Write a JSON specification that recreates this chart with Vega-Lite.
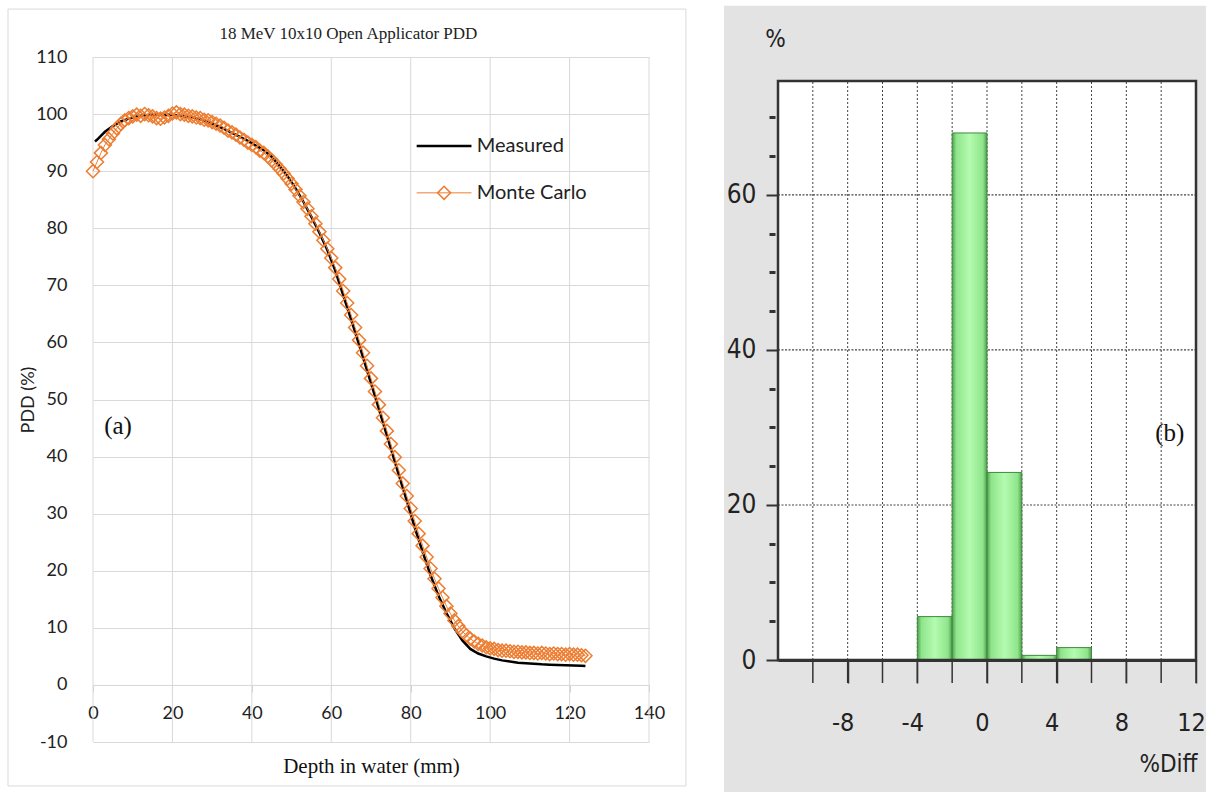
{
"$schema": "https://vega.github.io/schema/vega-lite/v6.json",
"background": "white",
"padding": {"left": 7, "top": 5, "right": 0, "bottom": 0},
"spacing": 37,
"config": {"view": {"stroke": null}},
"datasets": {
"measured": [
{"d":0.5,"v":95.2},{"d":1,"v":95.5},{"d":3,"v":96.9},{"d":5,"v":97.9},{"d":7,"v":98.7},{"d":9,"v":99.2},{"d":11,"v":99.6},{"d":13,"v":99.8},{"d":15,"v":99.9},{"d":17,"v":99.9},{"d":19,"v":99.9},{"d":21,"v":99.8},{"d":23,"v":99.6},{"d":25,"v":99.4},{"d":27,"v":99.1},{"d":29,"v":98.6},{"d":31,"v":98.0},{"d":33,"v":97.4},{"d":35,"v":96.7},{"d":37,"v":96.0},{"d":39,"v":95.3},{"d":41,"v":94.5},{"d":43,"v":93.7},{"d":45,"v":92.5},{"d":47,"v":90.9},{"d":49,"v":89.1},{"d":51,"v":87.0},{"d":53,"v":84.6},{"d":55,"v":82.0},{"d":57,"v":79.2},{"d":59,"v":76.2},{"d":61,"v":72.6},{"d":63,"v":68.3},{"d":65,"v":64.0},{"d":67,"v":59.6},{"d":69,"v":55.1},{"d":71,"v":50.6},{"d":73,"v":46.0},{"d":75,"v":41.4},{"d":77,"v":36.8},{"d":79,"v":32.3},{"d":81,"v":27.6},{"d":83,"v":23.3},{"d":85,"v":19.2},{"d":87,"v":15.6},{"d":89,"v":12.6},{"d":91,"v":9.9},{"d":93,"v":7.8},{"d":95,"v":6.3},{"d":97,"v":5.5},{"d":99,"v":5.0},{"d":101,"v":4.6},{"d":103,"v":4.3},{"d":105,"v":4.1},{"d":107,"v":3.9},{"d":109,"v":3.8},{"d":111,"v":3.7},{"d":113,"v":3.6},{"d":115,"v":3.55},{"d":117,"v":3.5},{"d":119,"v":3.45},{"d":121,"v":3.4},{"d":123,"v":3.35},{"d":124,"v":3.3}
],
"mc": [
{"d":0,"v":90.0},{"d":1,"v":91.6},{"d":2,"v":93.2},{"d":3,"v":94.6},{"d":4,"v":95.6},{"d":5,"v":96.6},{"d":6,"v":97.5},{"d":7,"v":98.3},{"d":8,"v":98.9},{"d":9,"v":99.3},
{"d":10,"v":99.6},{"d":11,"v":99.9},{"d":12,"v":99.7},{"d":13,"v":100.0},{"d":14,"v":99.8},{"d":15,"v":99.6},{"d":16,"v":99.3},{"d":17,"v":99.2},{"d":18,"v":99.4},{"d":19,"v":99.7},
{"d":20,"v":100.1},{"d":21,"v":100.3},{"d":22,"v":100.0},{"d":23,"v":99.9},{"d":24,"v":99.7},{"d":25,"v":99.6},{"d":26,"v":99.4},{"d":27,"v":99.3},{"d":28,"v":99.0},{"d":29,"v":98.9},
{"d":30,"v":98.6},{"d":31,"v":98.3},{"d":32,"v":98.0},{"d":33,"v":97.6},{"d":34,"v":97.1},{"d":35,"v":96.8},{"d":36,"v":96.4},{"d":37,"v":95.9},{"d":38,"v":95.5},{"d":39,"v":95.0},
{"d":40,"v":94.6},{"d":41,"v":94.2},{"d":42,"v":93.6},{"d":43,"v":93.2},{"d":44,"v":92.6},{"d":45,"v":91.9},{"d":46,"v":91.2},{"d":47,"v":90.4},{"d":48,"v":89.6},{"d":49,"v":88.7},
{"d":50,"v":87.8},{"d":51,"v":86.8},{"d":52,"v":85.7},{"d":53,"v":84.6},{"d":54,"v":83.4},{"d":55,"v":82.1},{"d":56,"v":80.8},{"d":57,"v":79.4},{"d":58,"v":77.9},{"d":59,"v":76.4},
{"d":60,"v":74.8},{"d":61,"v":73.1},{"d":62,"v":71.1},{"d":63,"v":69.0},{"d":64,"v":66.9},{"d":65,"v":64.8},{"d":66,"v":62.6},{"d":67,"v":60.4},{"d":68,"v":58.2},{"d":69,"v":55.9},
{"d":70,"v":53.7},{"d":71,"v":51.4},{"d":72,"v":49.1},{"d":73,"v":46.8},{"d":74,"v":44.5},{"d":75,"v":42.2},{"d":76,"v":39.9},{"d":77,"v":37.6},{"d":78,"v":35.3},{"d":79,"v":33.1},
{"d":80,"v":30.9},{"d":81,"v":28.7},{"d":82,"v":26.5},{"d":83,"v":24.4},{"d":84,"v":22.4},{"d":85,"v":20.4},{"d":86,"v":18.6},{"d":87,"v":16.9},{"d":88,"v":15.3},{"d":89,"v":13.8},
{"d":90,"v":12.5},{"d":91,"v":11.3},{"d":92,"v":10.3},{"d":93,"v":9.4},{"d":94,"v":8.7},{"d":95,"v":8.1},{"d":96,"v":7.6},{"d":97,"v":7.2},{"d":98,"v":6.9},{"d":99,"v":6.6},
{"d":100,"v":6.4},{"d":101,"v":6.3},{"d":102,"v":6.1},{"d":103,"v":6.0},{"d":104,"v":6.0},{"d":105,"v":5.9},{"d":106,"v":5.8},{"d":107,"v":5.8},{"d":108,"v":5.7},{"d":109,"v":5.7},
{"d":110,"v":5.6},{"d":111,"v":5.6},{"d":112,"v":5.5},{"d":113,"v":5.6},{"d":114,"v":5.5},{"d":115,"v":5.4},{"d":116,"v":5.5},{"d":117,"v":5.4},{"d":118,"v":5.4},{"d":119,"v":5.3},
{"d":120,"v":5.4},{"d":121,"v":5.3},{"d":122,"v":5.3},{"d":123,"v":5.2},{"d":124,"v":5.1}
],
"grid": [{"d":0},{"d":20},{"d":40},{"d":60},{"d":80},{"d":100},{"d":120},{"d":140}],
"hist": [
{"lo":-4,"hi":-2,"pct":5.6},{"lo":-2,"hi":0,"pct":68.0},{"lo":0,"hi":2,"pct":24.2},{"lo":2,"hi":4,"pct":0.6},{"lo":4,"hi":6,"pct":1.6}
],
"vgrid": [{"g":-10},{"g":-8},{"g":-6},{"g":-4},{"g":-2},{"g":0},{"g":2},{"g":4},{"g":6},{"g":8},{"g":10}],
"xticks": [{"g":-10},{"g":-8},{"g":-6},{"g":-4},{"g":-2},{"g":0},{"g":2},{"g":4},{"g":6},{"g":8},{"g":10},{"g":12}],
"hgrid": [{"g":20},{"g":40},{"g":60}],
"legend": [{"label":"Measured"},{"label":"Monte Carlo"}],
"titles": [{"t":"18 MeV 10x10 Open Applicator PDD"}]
},
"hconcat": [
{
"width": 556,
"height": 685,
"layer": [
{"data": {"values": [{}]},
"mark": {"type": "rect", "filled": false, "stroke": "#d9d9d9", "strokeWidth": 1},
"encoding": {
"x": {"datum": -21.4, "type": "quantitative", "scale": {"domain": [0, 140], "nice": false, "zero": false}},
"x2": {"datum": 149.3},
"y": {"datum": 118.4, "type": "quantitative", "scale": {"domain": [-10, 110], "nice": false, "zero": false}},
"y2": {"datum": -17.7}}},
{"data": {"name": "titles"},
"mark": {"type": "text", "align": "center", "baseline": "middle", "font": "Liberation Serif", "fontSize": 17, "color": "#222222"},
"encoding": {
"text": {"field": "t"},
"x": {"datum": 64.3, "type": "quantitative", "scale": {"domain": [0, 140], "nice": false, "zero": false}},
"y": {"datum": 114.0, "type": "quantitative", "scale": {"domain": [-10, 110], "nice": false, "zero": false}}}},
{"data": {"name": "grid"},
"mark": {"type": "rule", "color": "#d9d9d9", "strokeWidth": 1},
"encoding": {
"x": {"field": "d", "type": "quantitative", "scale": {"domain": [0, 140], "nice": false, "zero": false}},
"y": {"datum": -10, "type": "quantitative", "scale": {"domain": [-10, 110], "nice": false, "zero": false}},
"y2": {"datum": 110}}},
{"data": {"name": "measured"},
"mark": {"type": "line", "color": "#000000", "strokeWidth": 2.5},
"encoding": {
"x": {"field": "d", "type": "quantitative", "title": "Depth in water (mm)",
"scale": {"domain": [0, 140], "nice": false, "zero": false},
"axis": {"values": [0,5,10,15,20,25,30,35,40,45,50,55,60,65,70,75,80,85,90,95,100,105,110,115,120,125,130,135,140],
"labelExpr": "datum.value % 20 === 0 ? '' + datum.value : ''", "offset": -57.08, "grid": false,
"domainColor": "#d9d9d9", "domainWidth": 1, "tickColor": "#d0d0d0", "tickSize": 7, "tickWidth": 1,
"labelFont": "Lato", "labelFontSize": 18, "labelColor": "#222222", "labelPadding": 13, "labelFlush": false, "labelOverlap": false,
"titleFont": "Liberation Serif", "titleFontSize": 21, "titleFontWeight": "normal", "titleColor": "#111111", "titlePadding": 33}},
"y": {"field": "v", "type": "quantitative", "title": "PDD (%)",
"scale": {"domain": [-10, 110], "nice": false, "zero": false},
"axis": {"values": [-10,0,10,20,30,40,50,60,70,80,90,100,110], "labelExpr": "'' + datum.value", "grid": true, "gridColor": "#d9d9d9", "gridWidth": 1,
"domain": false, "ticks": false, "labelPadding": 26, "labelFont": "Lato", "labelFontSize": 18, "labelColor": "#222222",
"titleFont": "Lato", "titleFontSize": 18, "titleFontWeight": "normal", "titleColor": "#222222", "titlePadding": -2}}}},
{"data": {"name": "mc"},
"mark": {"type": "line", "color": "#ED7D31", "strokeWidth": 1,
"point": {"shape": "diamond", "filled": false, "size": 170, "stroke": "#ED7D31", "strokeWidth": 1.5}},
"encoding": {
"x": {"field": "d", "type": "quantitative", "scale": {"domain": [0, 140], "nice": false, "zero": false}},
"y": {"field": "v", "type": "quantitative", "scale": {"domain": [-10, 110], "nice": false, "zero": false}}}},
{"data": {"values": [{}]},
"mark": {"type": "rule", "color": "#000000", "strokeWidth": 2.5},
"encoding": {
"x": {"datum": 81.5, "type": "quantitative", "scale": {"domain": [0, 140], "nice": false, "zero": false}},
"x2": {"datum": 95.3},
"y": {"datum": 94.4, "type": "quantitative", "scale": {"domain": [-10, 110], "nice": false, "zero": false}}}},
{"data": {"values": [{}]},
"mark": {"type": "rule", "color": "#ED7D31", "strokeWidth": 1},
"encoding": {
"x": {"datum": 81.5, "type": "quantitative", "scale": {"domain": [0, 140], "nice": false, "zero": false}},
"x2": {"datum": 95.3},
"y": {"datum": 86.2, "type": "quantitative", "scale": {"domain": [-10, 110], "nice": false, "zero": false}}}},
{"data": {"values": [{}]},
"mark": {"type": "point", "shape": "diamond", "filled": false, "size": 170, "stroke": "#ED7D31", "strokeWidth": 1.5, "opacity": 1},
"encoding": {
"x": {"datum": 88.4, "type": "quantitative", "scale": {"domain": [0, 140], "nice": false, "zero": false}},
"y": {"datum": 86.2, "type": "quantitative", "scale": {"domain": [-10, 110], "nice": false, "zero": false}}}},
{"data": {"name": "legend"},
"transform": [{"filter": "datum.label === 'Measured'"}],
"mark": {"type": "text", "align": "left", "baseline": "middle", "font": "Lato", "fontSize": 20, "color": "#222222"},
"encoding": {
"text": {"field": "label"},
"x": {"datum": 96.6, "type": "quantitative", "scale": {"domain": [0, 140], "nice": false, "zero": false}},
"y": {"datum": 94.4, "type": "quantitative", "scale": {"domain": [-10, 110], "nice": false, "zero": false}}}},
{"data": {"name": "legend"},
"transform": [{"filter": "datum.label === 'Monte Carlo'"}],
"mark": {"type": "text", "align": "left", "baseline": "middle", "font": "Lato", "fontSize": 20, "color": "#222222"},
"encoding": {
"text": {"field": "label"},
"x": {"datum": 96.6, "type": "quantitative", "scale": {"domain": [0, 140], "nice": false, "zero": false}},
"y": {"datum": 86.2, "type": "quantitative", "scale": {"domain": [-10, 110], "nice": false, "zero": false}}}},
{"data": {"values": [{"tag": "(a)"}]},
"mark": {"type": "text", "align": "center", "baseline": "middle", "font": "Liberation Serif", "fontSize": 25, "color": "#111111"},
"encoding": {
"text": {"field": "tag"},
"x": {"datum": 6.3, "type": "quantitative", "scale": {"domain": [0, 140], "nice": false, "zero": false}},
"y": {"datum": 45.4, "type": "quantitative", "scale": {"domain": [-10, 110], "nice": false, "zero": false}}}}
]
},
{
"width": 418,
"height": 603,
"layer": [
{"data": {"values": [{}]},
"mark": {"type": "rect", "fill": "#e3e3e3", "stroke": null},
"encoding": {
"x": {"datum": -15.1, "type": "quantitative", "scale": {"domain": [-12, 12], "nice": false, "zero": false}},
"x2": {"datum": 13},
"y": {"datum": 84.4, "type": "quantitative", "scale": {"domain": [0, 77.8], "nice": false, "zero": false}},
"y2": {"datum": -18}}},
{"data": {"values": [{}]},
"mark": {"type": "rect", "fill": "#ffffff", "stroke": null},
"encoding": {
"x": {"datum": -12, "type": "quantitative", "scale": {"domain": [-12, 12], "nice": false, "zero": false}},
"x2": {"datum": 12},
"y": {"datum": 74.7, "type": "quantitative", "scale": {"domain": [0, 77.8], "nice": false, "zero": false}},
"y2": {"datum": 0}}},
{"data": {"name": "vgrid"},
"mark": {"type": "rule", "color": "#444444", "strokeWidth": 1, "strokeDash": [2, 2]},
"encoding": {
"x": {"field": "g", "type": "quantitative", "scale": {"domain": [-12, 12], "nice": false, "zero": false}},
"y": {"datum": 0, "type": "quantitative", "scale": {"domain": [0, 77.8], "nice": false, "zero": false}},
"y2": {"datum": 74.7}}},
{"data": {"name": "xticks"},
"mark": {"type": "rule", "color": "#333333", "strokeWidth": 1.5},
"encoding": {
"x": {"field": "g", "type": "quantitative", "scale": {"domain": [-12, 12], "nice": false, "zero": false}},
"y": {"datum": 0, "type": "quantitative", "scale": {"domain": [0, 77.8], "nice": false, "zero": false}},
"y2": {"datum": -2.97}}},
{"data": {"name": "hgrid"},
"mark": {"type": "rule", "color": "#444444", "strokeWidth": 1.2, "strokeDash": [2, 1.5]},
"encoding": {
"y": {"field": "g", "type": "quantitative", "scale": {"domain": [0, 77.8], "nice": false, "zero": false}},
"x": {"datum": -12, "type": "quantitative", "scale": {"domain": [-12, 12], "nice": false, "zero": false}},
"x2": {"datum": 12}}},
{"data": {"name": "hist"},
"mark": {"type": "rect", "stroke": "#3f8a3f", "strokeWidth": 1,
"fill": {"gradient": "linear", "x1": 0, "x2": 1, "y1": 0, "y2": 0,
"stops": [{"offset": 0, "color": "#4f9f4f"}, {"offset": 0.12, "color": "#8fe58b"}, {"offset": 0.5, "color": "#b4fbb0"}, {"offset": 0.88, "color": "#8fe58b"}, {"offset": 1, "color": "#4f9f4f"}]}},
"encoding": {
"x": {"field": "lo", "type": "quantitative", "title": "%Diff",
"scale": {"domain": [-12, 12], "nice": false, "zero": false},
"axis": {"values": [-8,-4,0,4,8,12], "labelExpr": "'' + datum.value",
"grid": false, "domain": true, "domainColor": "#333333", "domainWidth": 3,
"ticks": true, "tickColor": "#333333", "tickWidth": 1.5, "tickSize": 23,
"labelFont": "Liberation Sans Narrow, DejaVu Sans Condensed, sans-serif", "labelFontSize": 25, "labelColor": "#222222",
"labelPadding": 27, "labelOffset": -5, "labelFlush": false, "labelOverlap": false,
"titleFont": "Liberation Sans Narrow, DejaVu Sans Condensed, sans-serif", "titleFontSize": 24, "titleFontWeight": "normal", "titleColor": "#222222",
"titleAnchor": "end", "titleAlign": "right", "titleBaseline": "middle", "titleX": 419, "titleY": 104, "zindex": 1}},
"x2": {"field": "hi"},
"y": {"field": "pct", "type": "quantitative", "title": "%",
"scale": {"domain": [0, 77.8], "nice": false, "zero": false},
"axis": {"values": [0,5,10,15,20,25,30,35,40,45,50,55,60,65,70],
"labelExpr": "datum.value % 20 === 0 ? '' + datum.value : ''",
"domain": false, "grid": false, "tickColor": "#333333", "tickSize": 12,
"tickWidth": {"condition": {"test": "datum.value % 20 === 0", "value": 2}, "value": 3},
"tickDash": {"condition": {"test": "datum.value % 20 === 0", "value": [12, 0]}, "value": [0, 3, 6, 20]},
"labelFont": "Liberation Sans Narrow, DejaVu Sans Condensed, sans-serif", "labelFontSize": 26, "labelColor": "#222222", "labelPadding": 10, "labelOverlap": false,
"titleFont": "Liberation Sans Narrow, DejaVu Sans Condensed, sans-serif", "titleFontSize": 24, "titleFontWeight": "normal", "titleColor": "#222222",
"titleAngle": 0, "titleAlign": "center", "titleBaseline": "middle", "titleX": -3, "titleY": -18, "zindex": 1}},
"y2": {"datum": 0}}},
{"data": {"values": [{}]},
"mark": {"type": "rect", "filled": false, "stroke": "#333333", "strokeWidth": 2.5},
"encoding": {
"x": {"datum": -12, "type": "quantitative", "scale": {"domain": [-12, 12], "nice": false, "zero": false}},
"x2": {"datum": 12},
"y": {"datum": 74.7, "type": "quantitative", "scale": {"domain": [0, 77.8], "nice": false, "zero": false}},
"y2": {"datum": 0}}},
{"data": {"values": [{"tag": "(b)"}]},
"mark": {"type": "text", "align": "center", "baseline": "middle", "font": "Liberation Serif", "fontSize": 25, "color": "#111111"},
"encoding": {
"text": {"field": "tag"},
"x": {"datum": 10.5, "type": "quantitative", "scale": {"domain": [-12, 12], "nice": false, "zero": false}},
"y": {"datum": 29.3, "type": "quantitative", "scale": {"domain": [0, 77.8], "nice": false, "zero": false}}}}
]
}
]
}
